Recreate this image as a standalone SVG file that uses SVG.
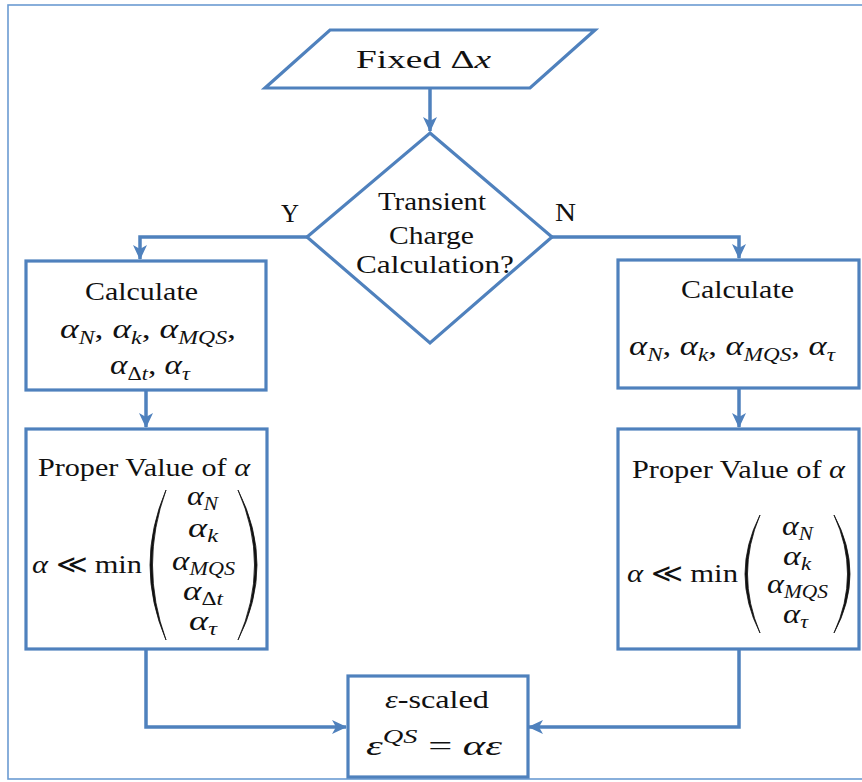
<svg xmlns="http://www.w3.org/2000/svg" width="862" height="782" viewBox="0 0 862 782">
<style>
.shape{fill:#ffffff;stroke:#4f81bd;stroke-width:3.2;stroke-linejoin:miter}
.conn{fill:none;stroke:#4f81bd;stroke-width:3.5}
.t{font-family:'Liberation Serif','Times New Roman',serif;fill:#111;font-size:26px}
.m{font-family:'Liberation Serif','DejaVu Serif',serif;font-style:italic;fill:#111;font-size:27px}
.r{font-style:normal}
.sub{font-size:18px}
.paren{fill:#111;stroke:#111;stroke-width:0.8}
</style>
<defs>
<marker id="ah" markerUnits="userSpaceOnUse" markerWidth="16" markerHeight="14" refX="14" refY="7" orient="auto">
<path d="M0,0 L15,7 L0,14 L4,7 Z" fill="#4f81bd"/>
</marker>
</defs>
<rect x="8" y="5" width="880" height="774" fill="none" stroke="#6b9bd2" stroke-width="1.6"/>
<g id="connectors">
<path class="conn" d="M430,88 V131" marker-end="url(#ah)"/>
<path class="conn" d="M307,237 H140 V259" marker-end="url(#ah)"/>
<path class="conn" d="M552,237 H739 V258" marker-end="url(#ah)"/>
<path class="conn" d="M146,390 V427" marker-end="url(#ah)"/>
<path class="conn" d="M739,388 V427" marker-end="url(#ah)"/>
<path class="conn" d="M146,649 V727 H346" marker-end="url(#ah)"/>
<path class="conn" d="M739,649 V727 H529" marker-end="url(#ah)"/>
</g>
<g id="start">
<polygon class="shape" points="330,30 595,30 530,88 265,88"/>
<text class="t" x="356" y="68" font-size="27" textLength="135" lengthAdjust="spacingAndGlyphs">Fixed Δ<tspan font-style="italic">x</tspan></text>
</g>
<g id="decision">
<polygon class="shape" points="430,133 552,237 430,343 307,237"/>
<text class="t" x="378" y="210" font-size="23" textLength="108" lengthAdjust="spacingAndGlyphs">Transient</text>
<text class="t" x="389" y="244" font-size="23" textLength="85" lengthAdjust="spacingAndGlyphs">Charge</text>
<text class="t" x="356" y="273" font-size="23" textLength="158" lengthAdjust="spacingAndGlyphs">Calculation?</text>
</g>
<g id="labels">
<text class="t" x="281" y="222" font-size="23" textLength="18" lengthAdjust="spacingAndGlyphs">Y</text>
<text class="t" x="555" y="221" font-size="23" textLength="21" lengthAdjust="spacingAndGlyphs">N</text>
</g>
<g id="calc-left">
<rect class="shape" x="26" y="261" width="240" height="129"/>
<text class="t" x="85" y="300" textLength="113" lengthAdjust="spacingAndGlyphs">Calculate</text>
<text class="m" x="60" y="338" textLength="176" lengthAdjust="spacingAndGlyphs">α<tspan class="sub" dy="6">N</tspan><tspan class="r" dy="-6">, </tspan>α<tspan class="sub" dy="6">k</tspan><tspan class="r" dy="-6">, </tspan>α<tspan class="sub" dy="6">MQS</tspan><tspan class="r" dy="-6">,</tspan></text>
<text class="m" x="110" y="374" textLength="80" lengthAdjust="spacingAndGlyphs">α<tspan class="sub" dy="6"><tspan class="r">Δ</tspan>t</tspan><tspan class="r" dy="-6">, </tspan>α<tspan class="sub" dy="6">τ</tspan></text>
</g>
<g id="calc-right">
<rect class="shape" x="618" y="260" width="241" height="128"/>
<text class="t" x="681" y="298" textLength="113" lengthAdjust="spacingAndGlyphs">Calculate</text>
<text class="m" x="629" y="355" textLength="206" lengthAdjust="spacingAndGlyphs">α<tspan class="sub" dy="6">N</tspan><tspan class="r" dy="-6">, </tspan>α<tspan class="sub" dy="6">k</tspan><tspan class="r" dy="-6">, </tspan>α<tspan class="sub" dy="6">MQS</tspan><tspan class="r" dy="-6">, </tspan>α<tspan class="sub" dy="6">τ</tspan></text>
</g>
<g id="proper-left">
<rect class="shape" x="26" y="429" width="241" height="220"/>
<text class="t" x="38" y="476" textLength="212" lengthAdjust="spacingAndGlyphs">Proper Value of <tspan font-style="italic">α</tspan></text>
<text class="t" x="32" y="573" textLength="110" lengthAdjust="spacingAndGlyphs"><tspan font-style="italic">α</tspan> ≪ min</text>
<path class="paren" d="M166,490 Q134,565 166,640 Q139,565 166,490 Z"/>
<path class="paren" d="M238,490 Q276,565 238,640 Q271,565 238,490 Z"/>
<text class="m" x="187" y="505" textLength="31" lengthAdjust="spacingAndGlyphs">α<tspan class="sub" dy="5">N</tspan></text>
<text class="m" x="188" y="537" textLength="30" lengthAdjust="spacingAndGlyphs">α<tspan class="sub" dy="5">k</tspan></text>
<text class="m" x="172" y="570" textLength="63" lengthAdjust="spacingAndGlyphs">α<tspan class="sub" dy="5">MQS</tspan></text>
<text class="m" x="183" y="600" textLength="40" lengthAdjust="spacingAndGlyphs">α<tspan class="sub" dy="5"><tspan class="r">Δ</tspan>t</tspan></text>
<text class="m" x="189" y="630" textLength="28" lengthAdjust="spacingAndGlyphs">α<tspan class="sub" dy="5">τ</tspan></text>
</g>
<g id="proper-right">
<rect class="shape" x="618" y="429" width="241" height="220"/>
<text class="t" x="632" y="478" textLength="213" lengthAdjust="spacingAndGlyphs">Proper Value of <tspan font-style="italic">α</tspan></text>
<text class="t" x="627" y="582" textLength="111" lengthAdjust="spacingAndGlyphs"><tspan font-style="italic">α</tspan> ≪ min</text>
<path class="paren" d="M760,515 Q730,574 760,633 Q735,574 760,515 Z"/>
<path class="paren" d="M834,515 Q866,574 834,633 Q861,574 834,515 Z"/>
<text class="m" x="782" y="535" textLength="31" lengthAdjust="spacingAndGlyphs">α<tspan class="sub" dy="5">N</tspan></text>
<text class="m" x="783" y="565" textLength="28" lengthAdjust="spacingAndGlyphs">α<tspan class="sub" dy="5">k</tspan></text>
<text class="m" x="767" y="593" textLength="61" lengthAdjust="spacingAndGlyphs">α<tspan class="sub" dy="5">MQS</tspan></text>
<text class="m" x="783" y="623" textLength="25" lengthAdjust="spacingAndGlyphs">α<tspan class="sub" dy="5">τ</tspan></text>
</g>
<g id="scaled">
<rect class="shape" x="348" y="676" width="180" height="101"/>
<text class="t" x="385" y="708" textLength="104" lengthAdjust="spacingAndGlyphs"><tspan font-style="italic">ε</tspan>-scaled</text>
<text class="m" x="366" y="755" textLength="136" lengthAdjust="spacingAndGlyphs">ε<tspan class="sub" dy="-12">QS</tspan><tspan class="r" dy="12"> = </tspan>αε</text>
</g>
</svg>
